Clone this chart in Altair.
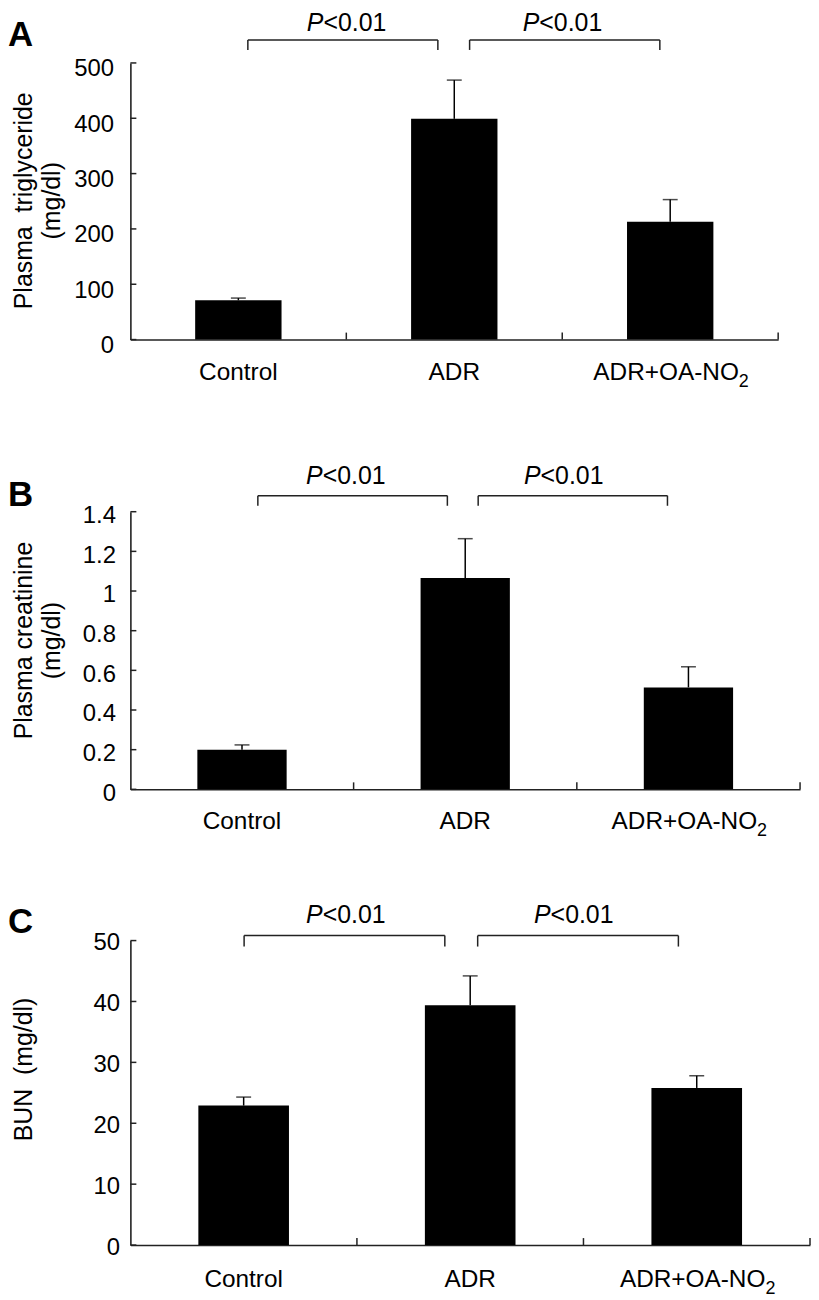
import altair as alt
import pandas as pd

FONT = "Liberation Sans"
AX = "#222222"
AXW = 1.6

# ---------------- data ----------------
groups = ["Control", "ADR", "ADR+OA-NO"]
subscript = "2"

tg_mean = [71, 399, 213]
tg_sem = [4, 70, 40]
cr_mean = [0.200, 1.066, 0.514]
cr_sem = [0.024, 0.198, 0.104]
bun_mean = [22.9, 39.4, 25.8]
bun_sem = [1.4, 4.8, 2.0]

tg_ticks = [0, 100, 200, 300, 400, 500]
cr_ticks = [0, 0.2, 0.4, 0.6, 0.8, 1.0, 1.2, 1.4]
bun_ticks = [0, 10, 20, 30, 40, 50]

p_italic = "P"
p_rest = "<0.01"

# comparison brackets (group-index units) and P-label centres
tg_brackets = [(0.544, 1.424), (1.571, 2.452)]
tg_p_x = [1.0, 2.0]
tg_levels = [541.5, 523.5, 557.5]    # bracket, leg end, text baseline (data units)

cr_brackets = [(0.571, 1.420), (1.558, 2.406)]
cr_p_x = [0.964, 1.94]
cr_levels = [1.481, 1.430, 1.5415]

bun_brackets = [(0.502, 1.388), (1.533, 2.419)]
bun_p_x = [0.95, 1.956]
bun_levels = [50.82, 49.02, 52.94]


def panel(letter, means, sems, ticks, ymax, title, brackets, p_x, levels, L):
    W, H, top = L["w"], L["h"], L["top"]
    xs = alt.Scale(domain=[0, 3], nice=False, zero=False)
    ys = alt.Scale(domain=[0, ymax], range=[H, top], nice=False, zero=True)

    yaxis = alt.Axis(
        values=ticks, labelExpr="toString(round(datum.value * 10) / 10)",
        ticks=False, tickSize=0, grid=False,
        labelFont=FONT, labelFontSize=24, labelColor="black",
        labelPadding=L["labpad"], labelOffset=L["laboff"], labelOverlap=False,
        labelBaseline="middle",
        domainColor=AX, domainWidth=AXW,
        title=title, titleFont=FONT, titleFontSize=25, titleFontWeight="normal",
        titleColor="black", titleAngle=270, titleAlign="center",
        titleBaseline="alphabetic", titleX=L["tx"], titleY=L["ty"], titleLineHeight=28,
    )
    xaxis = alt.Axis(labels=False, ticks=False, title=None, grid=False,
                     domainColor=AX, domainWidth=AXW)

    def X(f):
        return alt.X(f, scale=xs, axis=xaxis)

    def Y(f):
        return alt.Y(f, scale=ys, axis=yaxis)

    df = pd.DataFrame({"g": groups, "i": list(range(len(groups))), "m": means, "s": sems})
    base = alt.Chart(df).transform_calculate(
        c="datum.i + 0.5", xa="datum.i + 0.3", xb="datum.i + 0.7",
        u="datum.m + datum.s", z="0"
    )

    bars = base.mark_bar(color="black").encode(
        x=X("xa:Q"), x2="xb:Q", y=Y("m:Q"), y2="z:Q",
    )
    err = base.mark_rule(color="black", strokeWidth=1.5).encode(
        x=X("c:Q"), y=Y("m:Q"), y2="u:Q",
    )
    cap = base.mark_tick(color="black", orient="horizontal", size=15, thickness=1.5).encode(
        x=X("c:Q"), y=Y("u:Q"),
    )

    ytk = alt.Chart(pd.DataFrame({"v": ticks})).mark_rule(color=AX, strokeWidth=1.5).encode(
        y=Y("v:Q"), x=alt.value(0), x2=alt.value(6)
    )
    xtk = alt.Chart(pd.DataFrame({"b": [1, 2, 3]})).mark_rule(color=AX, strokeWidth=1.5).encode(
        x=X("b:Q"), y=alt.value(H), y2=alt.value(H - 7)
    )

    segs = []
    yb, yl, yt = levels
    for a, b in brackets:
        segs.append({"x1": a, "x2": b, "y1": yb, "y2": yb})
        segs.append({"x1": a, "x2": a, "y1": yb, "y2": yl})
        segs.append({"x1": b, "x2": b, "y1": yb, "y2": yl})
    br = alt.Chart(pd.DataFrame(segs)).mark_rule(color=AX, strokeWidth=1.5).encode(
        x=X("x1:Q"), x2="x2:Q", y=Y("y1:Q"), y2="y2:Q",
    )

    pdf = pd.DataFrame({"c": p_x, "y": [yt] * len(p_x)})
    pbase = alt.Chart(pdf)
    p1 = pbase.mark_text(text=p_italic, font=FONT, fontSize=25, fontStyle="italic",
                         align="right", baseline="alphabetic", dx=-23, color="black").encode(
        x=X("c:Q"), y=Y("y:Q"))
    p2 = pbase.mark_text(text=p_rest, font=FONT, fontSize=25,
                         align="left", baseline="alphabetic", dx=-23, color="black").encode(
        x=X("c:Q"), y=Y("y:Q"))

    lab_y = H + L["lab"]
    lab12 = base.transform_filter("datum.i < 2").mark_text(
        font=FONT, fontSize=24.5, align="center", baseline="alphabetic", color="black").encode(
        x=X("c:Q"), y=alt.value(lab_y), text="g:N")
    lab3 = base.transform_filter("datum.i == 2").mark_text(
        font=FONT, fontSize=24.5, align="right", baseline="alphabetic", dx=69, color="black").encode(
        x=X("c:Q"), y=alt.value(lab_y), text="g:N")
    sub = base.transform_filter("datum.i == 2").mark_text(
        text=subscript, font=FONT, fontSize=18, align="left", baseline="alphabetic",
        dx=69, color="black").encode(
        x=X("c:Q"), y=alt.value(lab_y + 7))

    let = alt.Chart(pd.DataFrame({"t": [letter]})).mark_text(
        font=FONT, fontSize=35, fontWeight="bold", align="left", baseline="alphabetic",
        color="black").encode(text="t:N", x=alt.value(-123), y=alt.value(L["ly"]))

    return alt.layer(bars, err, cap, ytk, xtk, br, p1, p2, lab12, lab3, sub, let).properties(
        width=W, height=H)


LA = dict(w=651, h=322, top=44, ly=27, lab=41, labpad=17, laboff=6, tx=-99, ty=182)
LB = dict(w=673, h=452, top=173, ly=167, lab=40, labpad=15, laboff=4, tx=-99, ty=302)
LC = dict(w=683, h=458, top=152, ly=144, lab=42, labpad=11, laboff=2, tx=-99, ty=281)

pa = panel("A", tg_mean, tg_sem, tg_ticks, 500, ["Plasma\u00a0 triglyceride", "(mg/dl)"],
           tg_brackets, tg_p_x, tg_levels, LA)
pb = panel("B", cr_mean, cr_sem, cr_ticks, 1.4, ["Plasma creatinine", "(mg/dl)"],
           cr_brackets, cr_p_x, cr_levels, LB)
pc = panel("C", bun_mean, bun_sem, bun_ticks, 50, "BUN\u00a0 (mg/dl)",
           bun_brackets, bun_p_x, bun_levels, LC)

chart = alt.vconcat(pa, pb, pc, spacing=0, bounds="flush").properties(
    padding=0, background="white"
).configure_view(stroke=None)

chart.save("out.html", embed_options={"renderer": "svg", "actions": False})
